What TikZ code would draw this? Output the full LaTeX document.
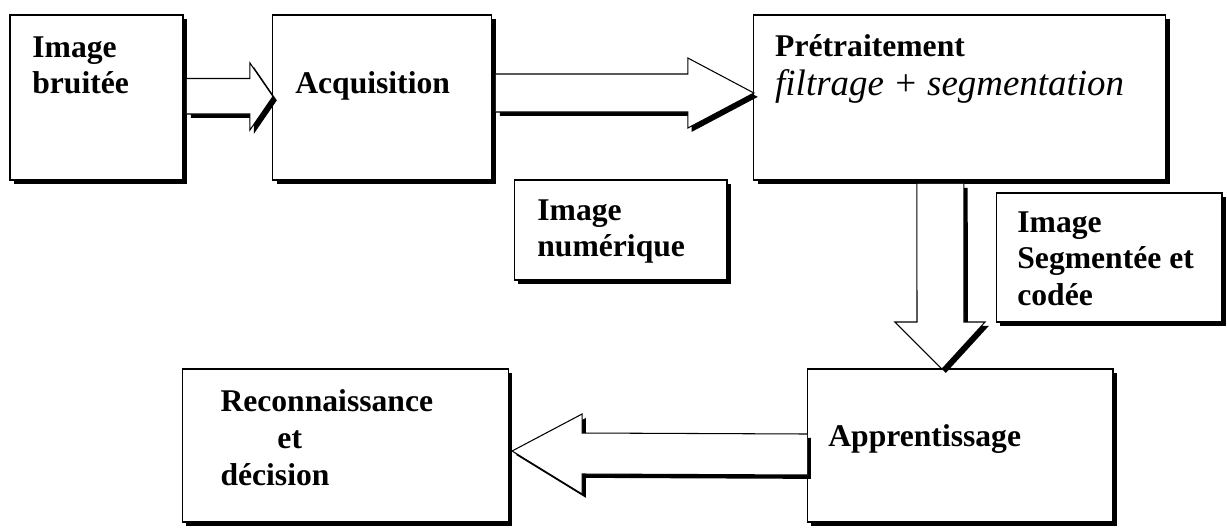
\documentclass[tikz,border=0pt]{standalone}
\usepackage{fontspec}
\setmainfont{Liberation Serif}
\usetikzlibrary{positioning, calc, shadows}

\tikzset{
  bloc/.style={draw, fill=white, line width=0.6pt, inner sep=0pt, outer sep=0pt,
    drop shadow={shadow xshift=2.2pt, shadow yshift=-2.2pt, opacity=1, fill=black}},
  etiq/.style={anchor=north west, inner sep=0pt, align=left,
    font=\bfseries\fontsize{18}{21}\selectfont},
  fleche/.style={draw, fill=white, line width=0.6pt,
    drop shadow={shadow xshift=2.2pt, shadow yshift=-2.2pt, opacity=1, fill=black}}
}

\begin{document}
\begin{tikzpicture}[x=0.02cm, y=-0.02cm]
  \useasboundingbox (0,0) rectangle (1227,528);

  % les blocs
  \node[bloc, minimum width=3.46cm, minimum height=3.3cm] (bruit) at (96.5,97.5) {};
  \node[bloc, minimum width=4.38cm, minimum height=3.3cm, right=1.8cm of bruit] (acq) {};
  \node[bloc, minimum width=8.24cm, minimum height=3.3cm, right=5.24cm of acq] (pre) {};
  \node[bloc, minimum width=4.26cm, minimum height=2cm] (num) at (620.5,230) {};
  \node[bloc, minimum width=4.52cm, minimum height=2.58cm] (seg) at (1109,257.5) {};
  \node[bloc, minimum width=6.12cm, minimum height=3.06cm] (app) at (960,445.5) {};
  \node[bloc, minimum width=6.52cm, minimum height=3.06cm, left=5.98cm of app] (rec) {};

  % les textes
  \node[etiq] (tbruit) at ($(bruit.north west)+(22,21)$) {Image\\bruitée};
  \node[etiq] (tacq) at ($(acq.north west)+(22,56)$) {Acquisition};
  \node[etiq] (tpre) at ($(pre.north west)+(21,19)$)
    {Prétraitement\\[1pt]{\mdseries\itshape\fontsize{21}{24}\selectfont filtrage + segmentation}};
  \node[etiq] (tnum) at ($(num.north west)+(23,19)$) {Image\\numérique};
  \node[etiq] (tseg) at ($(seg.north west)+(21,18)$) {Image\\Segmentée et\\codée};
  \node[etiq] (tapp) at ($(app.north west)+(21,55)$) {Apprentissage};
  \node[etiq] (trec) at ($(rec.north west)+(38,20)$)
    {Reconnaissance\\\hspace*{1.14cm}et\\décision};

  % les fleches
  \filldraw[fleche] ($(bruit.east)+(4,-19)$) -- ($(acq.west)+(-23,-19)$)
    -- ($(acq.west)+(-23,-34.5)$) -- ($(acq.west)+(0,-1)$)
    -- ($(acq.west)+(-23,32.5)$) -- ($(acq.west)+(-23,16.5)$)
    -- ($(bruit.east)+(4,16.5)$);
  \filldraw[fleche] ($(acq.east)+(4,-23.5)$) -- ($(pre.west)+(-66,-23.5)$)
    -- ($(pre.west)+(-66,-39.5)$) -- ($(pre.west)+(0,-4.5)$)
    -- ($(pre.west)+(-66,30.5)$) -- ($(pre.west)+(-66,14.5)$)
    -- ($(acq.east)+(4,14.5)$);
  \filldraw[fleche] ($(pre.south)+(-43,4)$) -- ($(app.north)+(-43,-47)$)
    -- ($(app.north)+(-65,-47)$) -- ($(app.north)+(-18,0)$)
    -- ($(app.north)+(25,-47)$) -- ($(app.north)+(4,-47)$)
    -- ($(pre.south)+(4,4)$);
  \filldraw[fleche] ($(app.west)+(0,-11.5)$) -- ($(rec.east)+(74,-12.5)$)
    -- ($(rec.east)+(74,-31.5)$) -- ($(rec.east)+(4,5.5)$)
    -- ($(rec.east)+(74,48.5)$) -- ($(rec.east)+(74,28.5)$)
    -- ($(app.west)+(0,29.5)$);
\end{tikzpicture}
\end{document}
